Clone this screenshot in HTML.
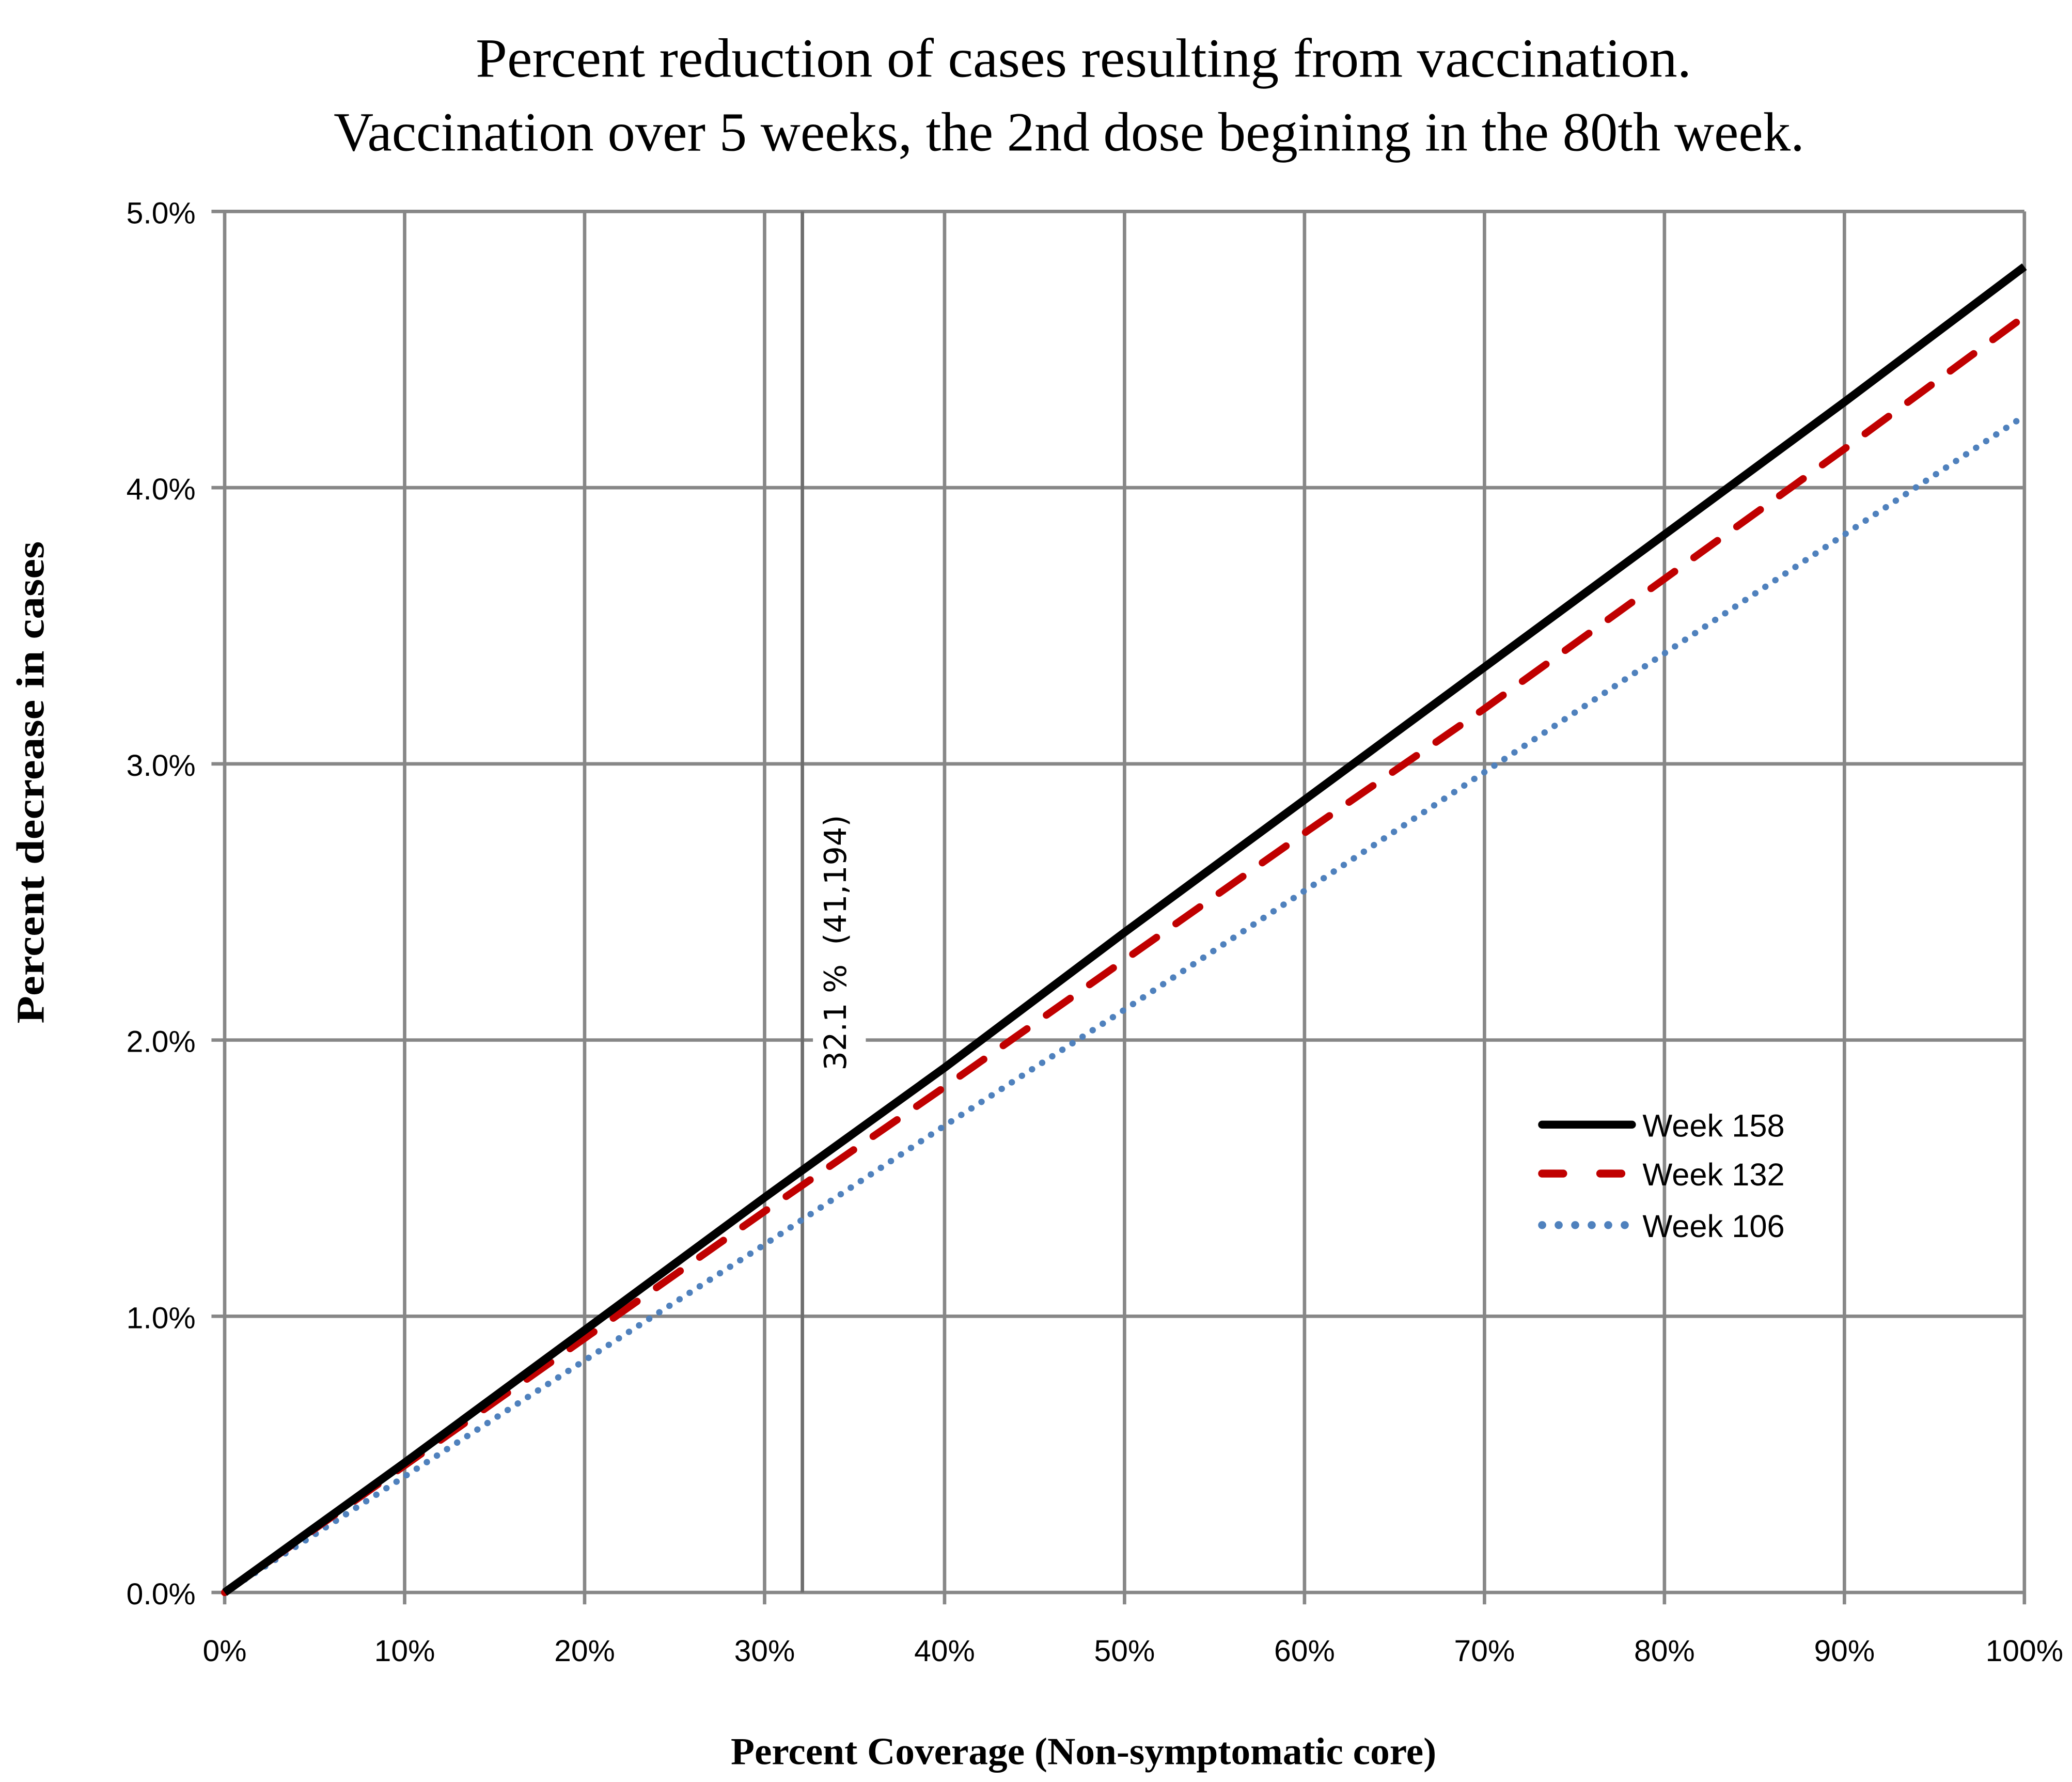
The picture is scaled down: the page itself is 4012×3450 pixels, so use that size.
<!DOCTYPE html>
<html><head><meta charset="utf-8"><style>
html,body{margin:0;padding:0;background:#fff;}
svg{display:block;}
</style></head><body>
<svg id="chart" width="4012" height="3450" viewBox="0 0 1568 1348.4" xmlns="http://www.w3.org/2000/svg">
<rect width="1568" height="1349" fill="#fff"/>
<g id="grid"></g>
<g id="series"></g>
<g id="labels"></g>
<text x="820" y="58" text-anchor="middle" font-family="Liberation Serif, serif" font-size="42" textLength="920" lengthAdjust="spacingAndGlyphs">Percent reduction of cases resulting from vaccination.</text>
<text x="809" y="114" text-anchor="middle" font-family="Liberation Serif, serif" font-size="42" textLength="1113" lengthAdjust="spacingAndGlyphs">Vaccination over 5 weeks, the 2nd dose begining in the 80th week.</text>
<text x="820" y="1335" text-anchor="middle" font-family="Liberation Serif, serif" font-weight="bold" font-size="29" textLength="534" lengthAdjust="spacingAndGlyphs">Percent Coverage (Non-symptomatic core)</text>
<text transform="translate(33,592) rotate(-90)" text-anchor="middle" font-family="Liberation Serif, serif" font-weight="bold" font-size="30" textLength="365" lengthAdjust="spacingAndGlyphs">Percent decrease in cases</text>
<g font-family="Liberation Sans Narrow, Liberation Sans, sans-serif" font-size="24">
 <line x1="1167" y1="851" x2="1235" y2="851" stroke="#000" stroke-width="6" stroke-linecap="round"/>
 <text x="1243" y="860">Week 158</text>
 <line x1="1167" y1="888" x2="1235" y2="888" stroke="#c00000" stroke-width="6" stroke-linecap="round" stroke-dasharray="16,28"/>
 <text x="1243" y="897">Week 132</text>
 <line x1="1167" y1="927" x2="1235" y2="927" stroke="#4f81bd" stroke-width="6" stroke-linecap="round" stroke-dasharray="0.1,12.4"/>
 <text x="1243" y="936">Week 106</text>
</g>
</svg>
<script>
const coverage = [0,10,20,30,40,50,60,70,80,90,100];
const week158 = [0,0.47,0.95,1.43,1.90,2.39,2.87,3.35,3.83,4.31,4.80];
const week132 = [0,0.46,0.92,1.38,1.83,2.29,2.75,3.20,3.67,4.14,4.62];
const week106 = [0,0.42,0.84,1.26,1.69,2.11,2.54,2.97,3.40,3.83,4.26];
const xTicks = [0,10,20,30,40,50,60,70,80,90,100];
const yTicks = [0,1,2,3,4,5];
const markerCoverage = 32.1;
const markerLabel = "32.1 %  (41,194)";

const NS="http://www.w3.org/2000/svg";
const L=170,R=1532,T=160,B=1205;
function xs(v){return L+(v/100)*(R-L);}
function ys(v){return B-(v/5)*(B-T);}
function mk(tag,attrs,parent){const e=document.createElementNS(NS,tag);for(const k in attrs)e.setAttribute(k,attrs[k]);parent.appendChild(e);return e;}
const grid=document.getElementById('grid'),ser=document.getElementById('series'),lab=document.getElementById('labels');
const gc="#878787",gw=2.6;
xTicks.forEach(t=>{
  const ln=mk('line',{x1:xs(t),x2:xs(t),y1:T,y2:B+9,stroke:gc,'stroke-width':gw},grid);
  
  
  const tx=mk('text',{x:xs(t),y:B+52,'text-anchor':'middle','font-family':'Liberation Sans Narrow, Liberation Sans, sans-serif','font-size':23},lab);
  tx.textContent=t+'%';
  
  
});
yTicks.forEach(t=>{
  const ln=mk('line',{x1:L-10,x2:R,y1:ys(t),y2:ys(t),stroke:gc,'stroke-width':gw},grid);
  
  
  const tx=mk('text',{x:L-22,y:ys(t)+9,'text-anchor':'end','font-family':'Liberation Sans Narrow, Liberation Sans, sans-serif','font-size':23},lab);
  tx.textContent=t.toFixed(1)+'%';
  
  
});
const mx=xs(markerCoverage);
const ml=mk('line',{x1:mx,x2:mx,y1:T,y2:B,stroke:'#6e6e6e','stroke-width':2.6},grid);


function path(vals){return vals.map((v,i)=>(i?'L':'M')+xs(coverage[i]).toFixed(1)+','+ys(v).toFixed(1)).join(' ');}
const s3=mk('path',{d:path(week106),fill:'none',stroke:'#4f81bd','stroke-width':4.8,'stroke-linecap':'round','stroke-dasharray':'0.1,9'},ser);


const s2=mk('path',{d:path(week132),fill:'none',stroke:'#c00000','stroke-width':5.5,'stroke-linecap':'round','stroke-dasharray':'22,18'},ser);


const s1=mk('path',{d:path(week158),fill:'none',stroke:'#000','stroke-width':6.2},ser);


const bg=mk('rect',{x:mx+8,y:582,width:40,height:230,fill:'#fff'},lab);


const mt=mk('text',{transform:`translate(${mx+33},${810}) rotate(-90)`,'font-family':'DejaVu Sans, sans-serif','font-size':23},lab);
mt.textContent=markerLabel;


mt.setAttribute('xml:space','preserve');
mt.style.whiteSpace='pre';
</script>
</body></html>
